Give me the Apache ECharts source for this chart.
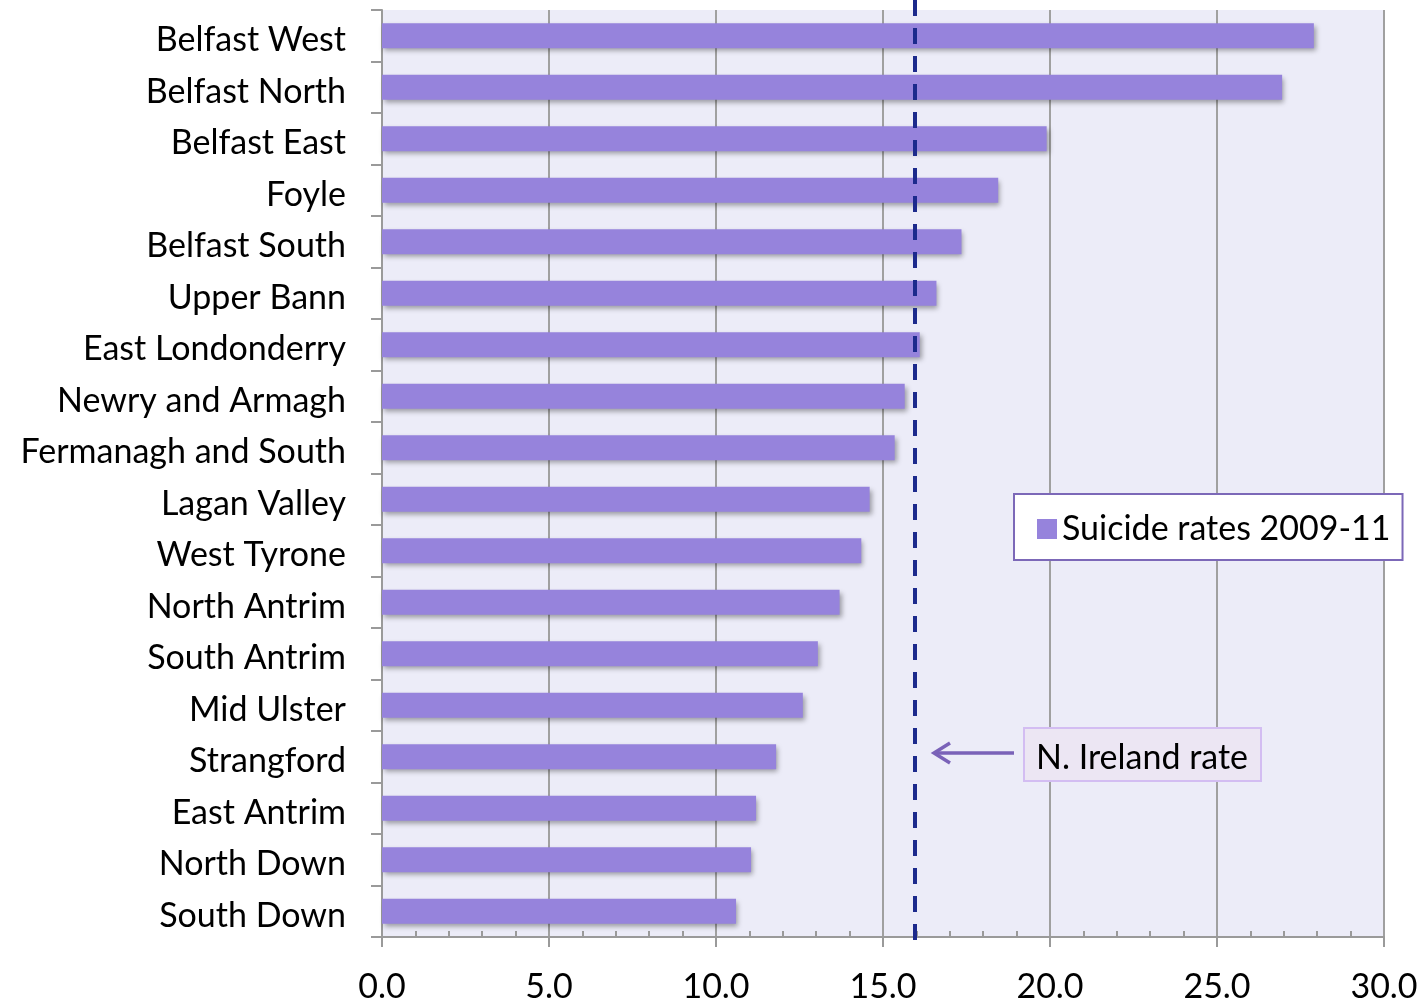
<!DOCTYPE html>
<html><head><meta charset="utf-8">
<script src="https://cdn.jsdelivr.net/npm/echarts@6/dist/echarts.min.js"></script>
<style>html,body{margin:0;padding:0;background:#fff}#c{width:1426px;height:1004px}</style>
</head><body><div id="c"></div>
<script>
const categories = ["Belfast West","Belfast North","Belfast East","Foyle","Belfast South","Upper Bann","East Londonderry","Newry and Armagh","Fermanagh and South","Lagan Valley","West Tyrone","North Antrim","South Antrim","Mid Ulster","Strangford","East Antrim","North Down","South Down"];
const rates = [27.9,26.95,19.9,18.45,17.35,16.6,16.1,15.65,15.35,14.6,14.35,13.7,13.05,12.6,11.8,11.2,11.05,10.6];
const niRate = 15.95;
const seriesName = "Suicide rates 2009-11";
const annotationText = "N. Ireland rate";
const xTicks = {min:0, max:30, interval:5};

const FONT = "Lato";
const FS = 34;
const chart = echarts.init(document.getElementById('c'));
chart.setOption({
  animation:false,
  textStyle:{fontFamily:FONT},
  grid:{left:382, right:42, top:10, bottom:66, backgroundColor:'#ececf8', show:true, borderWidth:0},
  legend:{
    data:[seriesName], left:1014, top:494, orient:'horizontal',
    backgroundColor:'#fff', borderColor:'#7c68b8', borderWidth:2,
    padding:[18,12,14,23], itemWidth:20, itemHeight:20, itemGap:9,
    icon:'rect',
    textStyle:{fontSize:FS, color:'#000', fontFamily:FONT}
  },
  xAxis:[{
    type:'value', min:xTicks.min, max:xTicks.max, interval:xTicks.interval,
    axisLine:{show:true, lineStyle:{color:'#9a9a9a', width:2}},
    axisTick:{show:true, length:10, lineStyle:{color:'#9a9a9a', width:2}},
    axisLabel:{formatter:v=>v.toFixed(1), fontSize:FS, color:'#000', margin:33, fontFamily:FONT},
    splitLine:{show:true, lineStyle:{color:'#a0a0a0', width:2}}
  },{
    type:'value', min:xTicks.min, max:xTicks.max, interval:xTicks.interval, position:'bottom',
    axisLine:{show:false}, axisLabel:{show:false}, splitLine:{show:false},
    axisTick:{show:false, inside:true},
    minorTick:{show:true, splitNumber:5, length:6, lineStyle:{color:'#9a9a9a', width:2}}
  }],
  yAxis:{
    type:'category', data:categories, inverse:true,
    axisLine:{show:true, lineStyle:{color:'#9a9a9a', width:2}},
    axisTick:{show:true, length:11, lineStyle:{color:'#9a9a9a', width:2}},
    axisLabel:{
      formatter:v=>'{a|'+v+'}', margin:36,
      rich:{a:{fontSize:FS, color:'#000', fontFamily:FONT, padding:[9,0,0,0]}}
    },
    splitLine:{show:false}
  },
  series:[{
    name:seriesName, type:'bar', data:rates, barWidth:'49%',
    itemStyle:{color:'#9683dc', shadowColor:'rgba(0,0,0,0.35)', shadowBlur:5, shadowOffsetX:2, shadowOffsetY:3},
    markLine:{
      silent:true, symbol:'none', label:{show:false},
      lineStyle:{color:'#1c2a8c', width:4, type:[16,12]},
      data:[[{xAxis:niRate, y:0},{xAxis:niRate, y:946}]]
    }
  }],
  graphic:[
    {type:'rect', shape:{x:1024, y:728, width:237, height:53}, style:{fill:'#ece6f3', stroke:'#d3bdf2', lineWidth:2}, z:10},
    {type:'text', style:{x:1142, y:758, text:annotationText, fill:'#000', font:FS+'px '+FONT, align:'center', verticalAlign:'middle'}, z:11},
    {type:'line', shape:{x1:1014, y1:753, x2:936, y2:753}, style:{stroke:'#7a62b8', lineWidth:3.5}, z:10},
    {type:'polyline', shape:{points:[[950,743],[934,753],[950,763]]}, style:{stroke:'#7a62b8', lineWidth:3.5, fill:null}, z:10}
  ]
});
</script></body></html>
